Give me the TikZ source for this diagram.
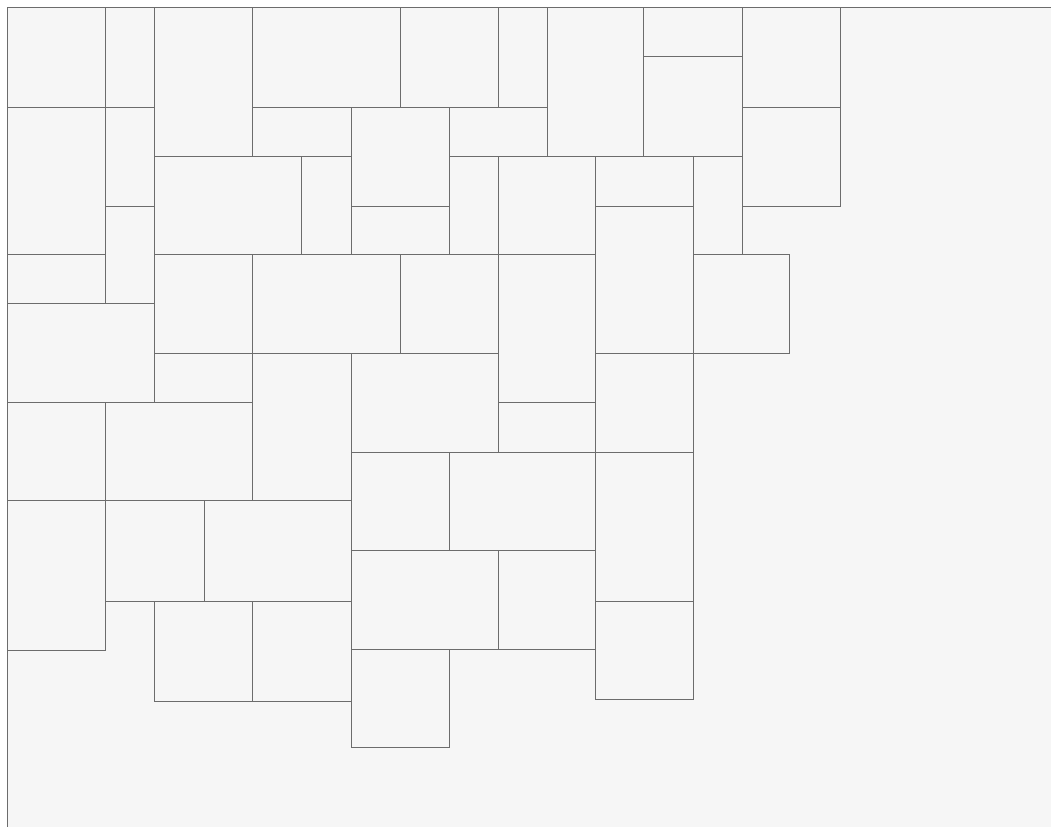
\documentclass[tikz,border=0pt]{standalone}
\definecolor{bgc}{HTML}{F6F6F6}
\definecolor{linec}{HTML}{6C6C6C}
\begin{document}
\begin{tikzpicture}[x=1pt,y=-1pt,
  tile/.style={draw=linec, line width=0.8pt, fill=bgc},
  framestyle/.style={draw=linec, line width=1pt}]
\useasboundingbox (0,0) rectangle (1051,827);
\fill[white] (0,0) rectangle (1051,827);
\fill[bgc] (7.3,7.3) rectangle (1051,827);
\foreach \a/\b/\c/\d in {
  7.3/7.3/105.3/107.3,
  105.3/7.3/154.3/107.3,
  154.3/7.3/252.3/156,
  252.3/7.3/400.3/107.3,
  400.3/7.3/498/107.3,
  498/7.3/547/107.3,
  547/7.3/643.5/156,
  643.5/7.3/742.3/56.7,
  643.5/56.7/742.3/156,
  742.3/7.3/840/107.3,
  742.3/107.3/840/206,
  7.3/107.3/105.3/254.3,
  105.3/107.3/154.3/206,
  105.3/206/154.3/303.3,
  7.3/254.3/105.3/303.3,
  252.3/107.3/351.3/156,
  351.3/107.3/449.3/206,
  449.3/107.3/547/156,
  154.3/156/301.7/254.3,
  301.7/156/351.3/254.3,
  351.3/206/449.3/254.3,
  449.3/156/498/254.3,
  498/156/595.5/254.3,
  595.5/156/693.5/206,
  693.5/156/742.3/254.3,
  595.5/206/693.5/353.3,
  693.5/254.3/789.5/353.3,
  7.3/303.3/154.3/402.3,
  154.3/254.3/252.3/353.3,
  252.3/254.3/400.3/353.3,
  400.3/254.3/498/353.3,
  498/254.3/595.5/402.3,
  154.3/353.3/252.3/402.3,
  252.3/353.3/351.3/500.7,
  351.3/353.3/498/452.3,
  498/402.3/595.5/452.3,
  595.5/353.3/693.5/452.3,
  7.3/402.3/105.3/500.7,
  105.3/402.3/252.3/500.7,
  351.3/452.3/449.3/550.3,
  449.3/452.3/595.5/550.3,
  595.5/452.3/693.5/601.3,
  7.3/500.7/105.3/650.7,
  105.3/500.7/204.3/601.3,
  204.3/500.7/351.3/601.3,
  351.3/550.3/498/649.3,
  498/550.3/595.5/649.3,
  595.5/601.3/693.5/699.3,
  154.3/601.3/252.3/701.3,
  252.3/601.3/351.3/701.3,
  351.3/649.3/449.3/747.3}
  \draw[tile] (\a,\b) rectangle (\c,\d);
\draw[framestyle] (1051,7.3) -- (7.3,7.3) -- (7.3,827);
\end{tikzpicture}
\end{document}
